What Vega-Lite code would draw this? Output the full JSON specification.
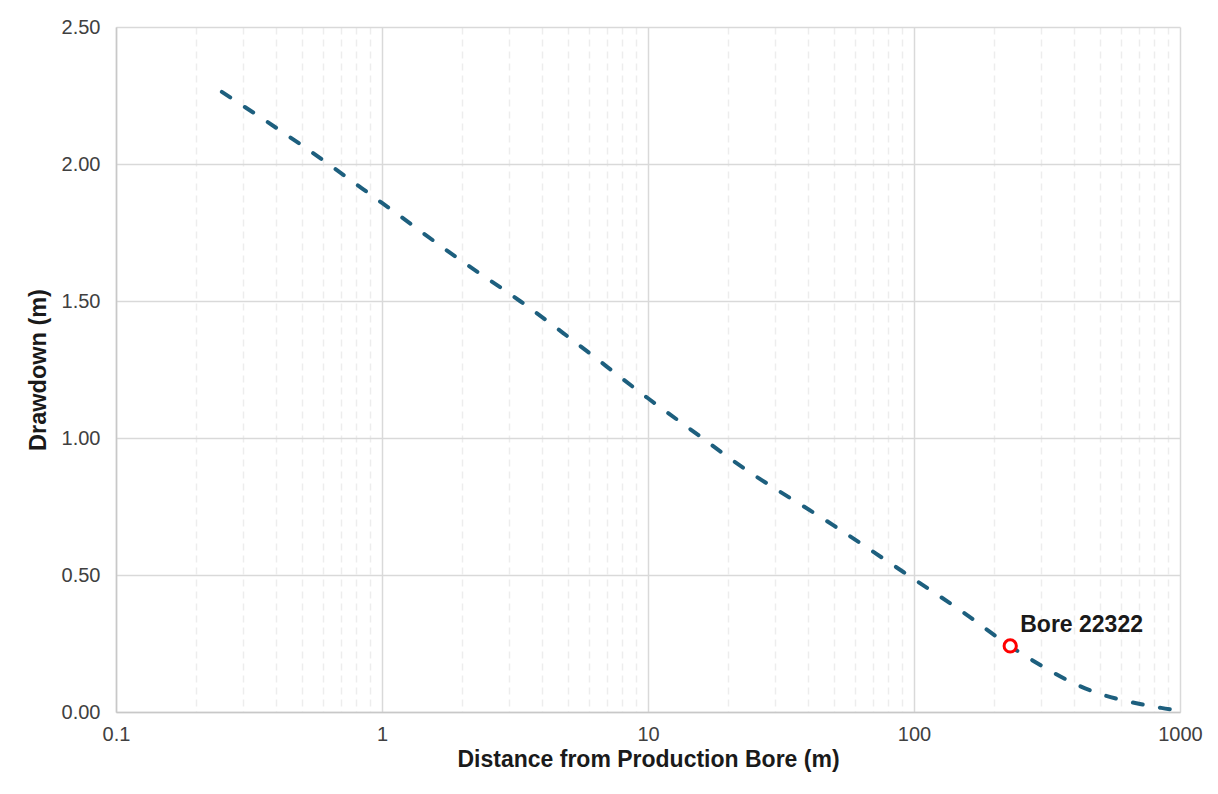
{
  "$schema": "https://vega.github.io/schema/vega-lite/v6.json",
  "width": 1064,
  "height": 685,
  "autosize": {"type": "none"},
  "padding": {"left": 116, "top": 27, "right": 38, "bottom": 82},
  "background": "white",
  "config": {
    "view": {"stroke": null},
    "font": "Liberation Sans"
  },
  "datasets": {
    "curve": [
      {"distance": 0.25, "drawdown": 2.263},
      {"distance": 0.5, "drawdown": 2.068},
      {"distance": 1, "drawdown": 1.858},
      {"distance": 2, "drawdown": 1.645},
      {"distance": 3.3, "drawdown": 1.5},
      {"distance": 5, "drawdown": 1.37},
      {"distance": 10, "drawdown": 1.145},
      {"distance": 16, "drawdown": 1.0},
      {"distance": 20, "drawdown": 0.93},
      {"distance": 50, "drawdown": 0.68},
      {"distance": 100, "drawdown": 0.485},
      {"distance": 150, "drawdown": 0.37},
      {"distance": 230, "drawdown": 0.24},
      {"distance": 300, "drawdown": 0.17},
      {"distance": 376, "drawdown": 0.117},
      {"distance": 500, "drawdown": 0.066},
      {"distance": 580, "drawdown": 0.048},
      {"distance": 700, "drawdown": 0.03},
      {"distance": 850, "drawdown": 0.015},
      {"distance": 1000, "drawdown": 0.005}
    ],
    "bore": [
      {"distance": 230, "drawdown": 0.241, "name": "Bore 22322"}
    ]
  },
  "layer": [
    {
      "data": {"name": "curve"},
      "mark": {"type": "line", "color": "#1d5f7e", "strokeWidth": 4, "strokeDash": [10, 17.5], "strokeCap": "round", "interpolate": "monotone"},
      "encoding": {
        "x": {
          "field": "distance", "type": "quantitative",
          "scale": {"type": "log", "domain": [0.1, 1000], "nice": false},
          "axis": {
            "title": "Distance from Production Bore (m)",
            "values": [0.1,0.2,0.3,0.4,0.5,0.6,0.7,0.8,0.9,1,2,3,4,5,6,7,8,9,10,20,30,40,50,60,70,80,90,100,200,300,400,500,600,700,800,900,1000],
            "labelExpr": "indexof([0.1,1,10,100,1000], datum.value) >= 0 ? format(datum.value, '~g') : ''",
            "ticks": false,
            "grid": true,
            "gridColor": {"condition": {"test": "indexof([0.1,1,10,100,1000], datum.value) >= 0", "value": "#d9d9d9"}, "value": "#ededed"},
            "gridDash": {"condition": {"test": "indexof([0.1,1,10,100,1000], datum.value) >= 0", "value": []}, "value": [7, 5]},
            "gridWidth": 1.5,
            "domainColor": "#c8c8c8",
            "domainWidth": 1.5,
            "labelFont": "Liberation Sans",
            "labelFontSize": 20,
            "labelColor": "#404040",
            "labelPadding": 12,
            "labelFlush": false,
            "labelOverlap": false,
            "titleFont": "Liberation Sans",
            "titleFontSize": 23,
            "titleFontWeight": "bold",
            "titleColor": "#1a1a1a",
            "titlePadding": 4
          }
        },
        "y": {
          "field": "drawdown", "type": "quantitative",
          "scale": {"domain": [0, 2.5], "nice": false, "zero": true},
          "axis": {
            "title": "Drawdown (m)",
            "values": [0, 0.5, 1, 1.5, 2, 2.5],
            "format": ".2f",
            "ticks": false,
            "grid": true,
            "gridColor": "#d9d9d9",
            "gridWidth": 1.5,
            "domainColor": "#c8c8c8",
            "domainWidth": 1.5,
            "labelFont": "Liberation Sans",
            "labelFontSize": 20,
            "labelColor": "#404040",
            "labelPadding": 16,
            "labelFlush": false,
            "titleFont": "Liberation Sans",
            "titleFontSize": 23.5,
            "titleFontWeight": "bold",
            "titleColor": "#1a1a1a",
            "titlePadding": 11
          }
        }
      }
    },
    {
      "data": {"name": "bore"},
      "mark": {"type": "point", "shape": "circle", "filled": false, "fill": "white", "fillOpacity": 1, "stroke": "#ff0000", "strokeWidth": 3, "size": 150, "opacity": 1},
      "encoding": {
        "x": {"field": "distance", "type": "quantitative"},
        "y": {"field": "drawdown", "type": "quantitative"}
      }
    },
    {
      "data": {"name": "bore"},
      "mark": {"type": "text", "align": "left", "baseline": "alphabetic", "dx": 10, "dy": -14, "font": "Liberation Sans", "fontSize": 23, "fontWeight": "bold", "color": "#1a1a1a"},
      "encoding": {
        "x": {"field": "distance", "type": "quantitative"},
        "y": {"field": "drawdown", "type": "quantitative"},
        "text": {"field": "name", "type": "nominal"}
      }
    }
  ]
}
